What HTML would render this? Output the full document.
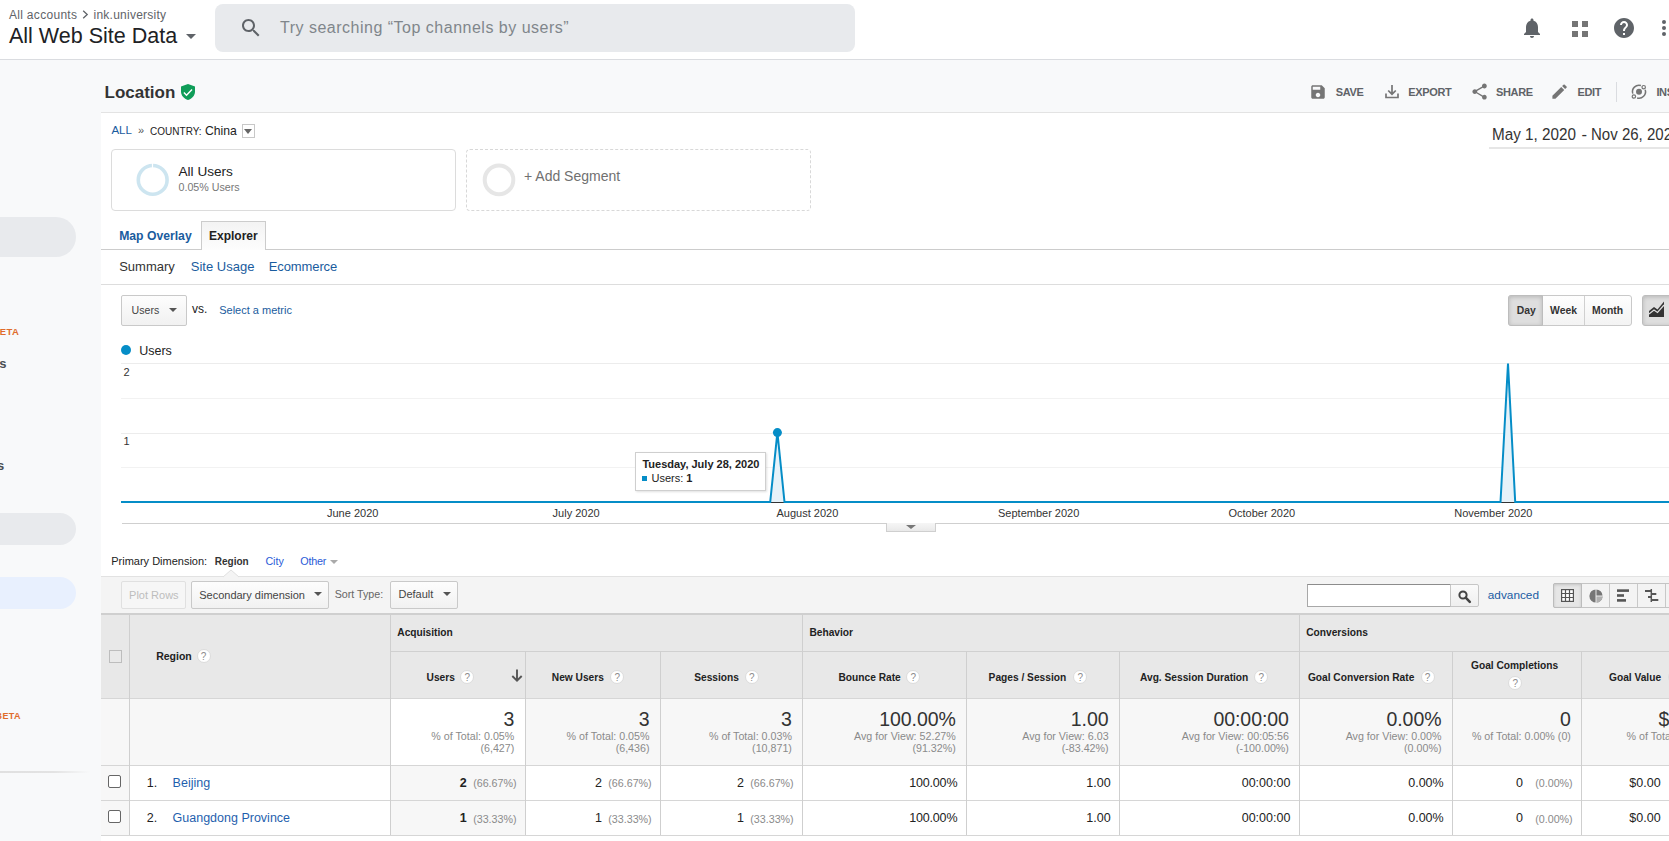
<!DOCTYPE html>
<html><head><meta charset="utf-8">
<style>
*{box-sizing:border-box;margin:0;padding:0}
html,body{width:1669px;height:841px;overflow:hidden;background:#f8f9fa;font-family:"Liberation Sans",sans-serif;color:#222;position:relative}
.a{position:absolute;white-space:nowrap;line-height:1}
.b{position:absolute}
svg{position:absolute;overflow:visible}
.blue{color:#1a5c9e}
.lnk{color:#3367d6}
.btn{position:absolute;border:1px solid #c9c9c9;border-radius:2px;background:linear-gradient(#fdfdfd,#f1f1f1)}
.arr{position:absolute;width:0;height:0;border-left:4px solid transparent;border-right:4px solid transparent;border-top:4px solid #666}
.q{position:absolute;width:14px;height:14px;border-radius:7px;background:#fff;border:1px solid #dcdcdc;color:#8c8c8c;font-size:10px;line-height:13px;text-align:center}
.vl{position:absolute;width:1px;background:#cfcfcf}
.hl{position:absolute;height:1px;background:#d4d4d4}
.cb{position:absolute;width:13px;height:13px;border:1.5px solid #666;border-radius:2px;background:#fff}
</style></head><body>

<!-- ===== HEADER ===== -->
<div class="b" style="left:0;top:0;width:1669px;height:60px;background:#fff;border-bottom:1px solid #dadce0"></div>
<div class="a" style="left:9px;top:8.5px;font-size:12px;color:#5f6368;letter-spacing:0.3px">All accounts</div>
<svg style="left:82px;top:10px" width="7" height="9" viewBox="0 0 7 9"><path d="M1.2 0.8 L5.2 4.5 L1.2 8.2" fill="none" stroke="#5f6368" stroke-width="1.3"/></svg>
<div class="a" style="left:93.5px;top:8.5px;font-size:12px;color:#5f6368;letter-spacing:0.25px">ink.university</div>
<div class="a" style="left:9px;top:26px;font-size:21.5px;color:#202124">All Web Site Data</div>
<div class="arr" style="left:186px;top:34px;border-left-width:5px;border-right-width:5px;border-top-width:5px;border-top-color:#5f6368"></div>
<div class="b" style="left:215px;top:4px;width:640px;height:48px;background:#e8eaed;border-radius:8px"></div>
<svg style="left:239px;top:16px" width="24" height="24" viewBox="0 0 24 24"><path fill="#5f6368" d="M15.5 14h-.79l-.28-.27C15.41 12.59 16 11.11 16 9.5 16 5.91 13.09 3 9.5 3S3 5.91 3 9.5 5.91 16 9.5 16c1.61 0 3.09-.59 4.23-1.57l.27.28v.79l5 4.99L20.49 19l-4.99-5zm-6 0C7.01 14 5 11.99 5 9.5S7.01 5 9.5 5 14 7.01 14 9.5 11.99 14 9.5 14z"/></svg>
<div class="a" style="left:280px;top:19.5px;font-size:16px;color:#80868b;letter-spacing:0.5px">Try searching “Top channels by users”</div>
<!-- bell -->
<svg style="left:1520px;top:16px" width="24" height="24" viewBox="0 0 24 24"><path fill="#5f6368" d="M12 22c1.1 0 2-.9 2-2h-4c0 1.1.89 2 2 2zm6-6v-5c0-3.07-1.64-5.64-4.5-6.32V4c0-.83-.67-1.5-1.5-1.5s-1.5.67-1.5 1.5v.68C7.63 5.36 6 7.92 6 11v5l-2 2v1h16v-1l-2-2z"/></svg>
<!-- apps 4 squares -->
<div class="b" style="left:1572px;top:21px;width:6px;height:6px;background:#757575"></div>
<div class="b" style="left:1582px;top:21px;width:6px;height:6px;background:#757575"></div>
<div class="b" style="left:1572px;top:31px;width:6px;height:6px;background:#757575"></div>
<div class="b" style="left:1582px;top:31px;width:6px;height:6px;background:#757575"></div>
<!-- help -->
<svg style="left:1612px;top:16px" width="24" height="24" viewBox="0 0 24 24"><path fill="#5f6368" d="M12 2C6.48 2 2 6.48 2 12s4.48 10 10 10 10-4.48 10-10S17.52 2 12 2zm1 17h-2v-2h2v2zm2.07-7.75l-.9.92C13.45 12.9 13 13.5 13 15h-2v-.5c0-1.1.45-2.1 1.17-2.83l1.24-1.26c.37-.36.59-.86.59-1.41 0-1.1-.9-2-2-2s-2 .9-2 2H8c0-2.21 1.79-4 4-4s4 1.79 4 4c0 .88-.36 1.68-.93 2.25z"/></svg>
<!-- more -->
<svg style="left:1652px;top:16px" width="24" height="24" viewBox="0 0 24 24"><circle cx="12" cy="6" r="2" fill="#5f6368"/><circle cx="12" cy="12" r="2" fill="#5f6368"/><circle cx="12" cy="18" r="2" fill="#5f6368"/></svg>

<!-- ===== LOCATION BAR ===== -->
<div class="a" style="left:104.5px;top:83.5px;font-size:17px;font-weight:bold;color:#333">Location</div>
<svg style="left:181px;top:84px" width="14" height="16" viewBox="0 0 14 16"><path d="M7 0 L14 2.6 V7.5 C14 11.5 11 14.8 7 16 C3 14.8 0 11.5 0 7.5 V2.6 Z" fill="#0f9d58"/><path d="M2.9 8.6 L5.5 11.2 L11 5.4" fill="none" stroke="#fff" stroke-width="1.4"/></svg>

<!-- toolbar icons -->
<svg style="left:1309px;top:82.7px" width="18" height="18" viewBox="0 0 24 24"><path fill="#757575" d="M17 3H5c-1.11 0-2 .9-2 2v14c0 1.1.89 2 2 2h14c1.1 0 2-.9 2-2V7l-4-4zm-5 16c-1.66 0-3-1.34-3-3s1.34-3 3-3 3 1.34 3 3-1.34 3-3 3zm3-10H5V5h10v4z"/></svg>
<div class="a" style="left:1335.8px;top:86.8px;font-size:11px;font-weight:bold;color:#5f6368;letter-spacing:-0.35px">SAVE</div>
<svg style="left:1385px;top:84px" width="14" height="15" viewBox="0 0 14 15"><path d="M7 1 V10 M3.2 6.5 L7 10.2 L10.8 6.5 M1 9.5 V13.5 H13 V9.5" fill="none" stroke="#757575" stroke-width="1.7"/></svg>
<div class="a" style="left:1408.3px;top:86.8px;font-size:11px;font-weight:bold;color:#5f6368;letter-spacing:-0.35px">EXPORT</div>
<svg style="left:1469.6px;top:82.4px" width="19.2" height="19.2" viewBox="0 0 24 24"><path fill="#757575" d="M18 16.08c-.76 0-1.44.3-1.96.77L8.91 12.7c.05-.23.09-.46.09-.7s-.04-.47-.09-.7l7.05-4.11c.54.5 1.25.81 2.04.81 1.66 0 3-1.34 3-3s-1.34-3-3-3-3 1.34-3 3c0 .24.04.47.09.7L8.04 9.81C7.5 9.31 6.79 9 6 9c-1.66 0-3 1.34-3 3s1.34 3 3 3c.79 0 1.5-.31 2.04-.81l7.12 4.16c-.05.21-.08.43-.08.65 0 1.61 1.31 2.92 2.92 2.92 1.61 0 2.92-1.31 2.92-2.92s-1.31-2.92-2.92-2.92z"/></svg>
<div class="a" style="left:1496px;top:86.8px;font-size:11px;font-weight:bold;color:#5f6368;letter-spacing:-0.35px">SHARE</div>
<svg style="left:1550.3px;top:82.4px" width="19.2" height="19.2" viewBox="0 0 24 24"><path fill="#757575" d="M3 17.25V21h3.75L17.81 9.94l-3.75-3.75L3 17.25zM20.71 7.04c.39-.39.39-1.02 0-1.41l-2.34-2.34c-.39-.39-1.02-.39-1.41 0l-1.83 1.83 3.75 3.75 1.83-1.83z"/></svg>
<div class="a" style="left:1577.5px;top:86.8px;font-size:11px;font-weight:bold;color:#5f6368;letter-spacing:-0.35px">EDIT</div>
<div class="b" style="left:1616px;top:82px;width:1px;height:20px;background:#dadce0"></div>
<svg style="left:1631px;top:84px" width="16" height="16" viewBox="0 0 16 16"><path d="M14.22 5.8 A6.5 6.5 0 0 1 6.1 13.92 M1.78 9.6 A6.5 6.5 0 0 1 9.9 1.48" fill="none" stroke="#757575" stroke-width="1.5"/><circle cx="8" cy="7.7" r="3" fill="#757575"/><circle cx="12.7" cy="3.2" r="1.7" fill="none" stroke="#757575" stroke-width="1.2"/><circle cx="2.9" cy="12.5" r="1.7" fill="none" stroke="#757575" stroke-width="1.2"/></svg>
<div class="a" style="left:1656.4px;top:86.8px;font-size:11px;font-weight:bold;color:#5f6368;letter-spacing:-0.35px">INSIGHTS</div>

<!-- ===== SIDEBAR ===== -->
<div class="b" style="left:-40px;top:217px;width:116px;height:40px;border-radius:20px;background:#e8eaed"></div>
<div class="a" style="left:-100px;width:119.3px;text-align:right;top:327.3px;font-size:9.5px;font-weight:bold;color:#e06c2c;letter-spacing:0.4px">BETA</div>
<div class="a" style="left:-100px;width:106.5px;text-align:right;top:356.6px;font-size:13px;font-weight:bold;color:#4a4e52">Users</div>
<div class="a" style="left:-100px;width:104.2px;text-align:right;top:458.8px;font-size:13px;font-weight:bold;color:#4a4e52">Others</div>
<div class="b" style="left:-40px;top:513px;width:116px;height:32px;border-radius:16px;background:#e8eaed"></div>
<div class="b" style="left:-40px;top:577px;width:116px;height:32px;border-radius:16px;background:#e8f0fe"></div>
<div class="a" style="left:-100px;width:121px;text-align:right;top:711.5px;font-size:9px;font-weight:bold;color:#e06c2c;letter-spacing:0.4px">BETA</div>
<div class="b" style="left:0;top:770.5px;width:90px;height:2px;background:linear-gradient(90deg,#e0e0e0,#e3e3e3 60%,rgba(248,249,250,0))"></div>

<!-- ===== MAIN WHITE ===== -->
<div class="b" style="left:101px;top:112px;width:1568px;height:729px;background:#fff;border-top:1px solid #e3e3e3"></div>

<!-- breadcrumb -->
<div class="a blue" style="left:111.4px;top:125.3px;font-size:11.5px">ALL</div>
<div class="a" style="left:138px;top:125px;font-size:11px;color:#555">»</div>
<div class="a" style="left:150.1px;top:126.5px;font-size:10px;color:#222">COUNTRY:</div>
<div class="a" style="left:205px;top:124.7px;font-size:12.2px;color:#222">China</div>
<div class="b" style="left:242px;top:124px;width:13px;height:14px;border:1px solid #c8c8c8;background:#fff"></div>
<div class="arr" style="left:244px;top:129px;border-left-width:4.5px;border-right-width:4.5px;border-top-width:5px;border-top-color:#666"></div>
<!-- date -->
<div class="a" style="left:1491.8px;top:127px;font-size:16.7px;color:#333;transform:scaleX(0.915);transform-origin:0 0">May 1, 2020</div>
<div class="a" style="left:1581.6px;top:127px;font-size:16.7px;color:#333">-</div>
<div class="a" style="left:1590.6px;top:127px;font-size:16.7px;color:#333;transform:scaleX(0.9);transform-origin:0 0">Nov 26, 2020</div>
<div class="b" style="left:1489px;top:147px;width:180px;height:2px;background:#e6e6e6"></div>

<!-- segments -->
<div class="b" style="left:111px;top:149px;width:345px;height:62px;border:1px solid #dcdcdc;border-radius:4px;background:#fff"></div>
<svg style="left:136px;top:163px" width="34" height="34" viewBox="0 0 34 34"><circle cx="16.7" cy="16.9" r="14.4" fill="none" stroke="#cde5f0" stroke-width="3.6"/><rect x="15.9" y="0" width="1.2" height="5" fill="#fff"/></svg>
<div class="a" style="left:178.5px;top:164.5px;font-size:13.6px;color:#222">All Users</div>
<div class="a" style="left:178.5px;top:181.9px;font-size:10.7px;color:#777">0.05% Users</div>
<div class="b" style="left:466px;top:149px;width:345px;height:62px;border:1px dashed #d8d8d8;border-radius:4px;background:#fff"></div>
<svg style="left:482px;top:163px" width="34" height="34" viewBox="0 0 34 34"><circle cx="17" cy="16.9" r="14.3" fill="none" stroke="#e6e6e6" stroke-width="4"/></svg>
<div class="a" style="left:524px;top:169.3px;font-size:14px;color:#707070">+ Add Segment</div>

<!-- tabs -->
<div class="hl" style="left:101px;top:249px;width:1568px;background:#cccccc"></div>
<div class="b" style="left:200.5px;top:221px;width:65.5px;height:29px;border:1px solid #cccccc;border-bottom:none;background:linear-gradient(#f3f3f3,#fdfdfd)"></div>
<div class="a blue" style="left:119.2px;top:229.8px;font-size:12.2px;font-weight:bold">Map Overlay</div>
<div class="a" style="left:209px;top:229.8px;font-size:12px;font-weight:bold;color:#222">Explorer</div>
<div class="a" style="left:119.2px;top:259.6px;font-size:13px;color:#333">Summary</div>
<div class="a blue" style="left:190.8px;top:259.6px;font-size:13px">Site Usage</div>
<div class="a blue" style="left:268.7px;top:259.6px;font-size:13px;letter-spacing:-0.1px">Ecommerce</div>
<div class="hl" style="left:101px;top:284px;width:1568px;background:#dddddd"></div>

<!-- metric selector -->
<div class="btn" style="left:121px;top:295px;width:66px;height:31px"></div>
<div class="a" style="left:131.6px;top:304.7px;font-size:10.6px;color:#444">Users</div>
<div class="arr" style="left:169px;top:307.6px;border-top-color:#555"></div>
<div class="a" style="left:192px;top:302.6px;font-size:12px;color:#1a1a1a">vs.</div>
<div class="a blue" style="left:219.2px;top:305.2px;font-size:11px">Select a metric</div>

<!-- day week month -->
<div class="b" style="left:1508px;top:295px;width:124px;height:31px;border:1px solid #c9c9c9;border-radius:3px;background:linear-gradient(#fefefe,#f3f3f3)"></div>
<div class="b" style="left:1508px;top:295px;width:35px;height:31px;border:1px solid #bdbdbd;border-radius:3px 0 0 3px;background:#dedede;box-shadow:inset 0 1px 4px rgba(0,0,0,.18)"></div>
<div class="vl" style="left:1584px;top:296px;height:29px;background:#d0d0d0"></div>
<div class="a" style="left:1516.7px;top:306px;font-size:10.4px;font-weight:bold;color:#333">Day</div>
<div class="a" style="left:1550.1px;top:306px;font-size:10.4px;font-weight:bold;color:#333">Week</div>
<div class="a" style="left:1592px;top:306px;font-size:10.4px;font-weight:bold;color:#333">Month</div>
<div class="b" style="left:1642px;top:295px;width:40px;height:31px;border:1px solid #bdbdbd;border-radius:3px;background:#dedede;box-shadow:inset 0 1px 4px rgba(0,0,0,.18)"></div>
<svg style="left:1648.8px;top:301px" width="16" height="16" viewBox="0 0 16 16"><path d="M0 10 L5 6 L8.5 8.5 L15 0.5 V16 H0 Z" fill="#333"/><path d="M0 13 L5 9 L8.5 11.5 L15 4" fill="none" stroke="#dedede" stroke-width="1.2"/></svg>

<!-- chart -->
<div class="b" style="left:120.7px;top:345.2px;width:10px;height:10px;border-radius:5px;background:#058dc7"></div>
<div class="a" style="left:139.2px;top:344.9px;font-size:12.5px;color:#222">Users</div>
<div class="hl" style="left:121px;top:363px;width:1548px;background:#ececec"></div>
<div class="hl" style="left:121px;top:398px;width:1548px;background:#f2f2f2"></div>
<div class="hl" style="left:121px;top:433px;width:1548px;background:#ececec"></div>
<div class="hl" style="left:121px;top:467px;width:1548px;background:#f2f2f2"></div>
<div class="a" style="left:123.5px;top:367.1px;font-size:11px;color:#333">2</div>
<div class="a" style="left:123.5px;top:435.7px;font-size:11px;color:#333">1</div>
<svg style="left:0;top:0" width="1669" height="841">
  <path d="M770.2 502 L777.4 432.4 L784.5 502 Z" fill="#e6f2f9"/>
  <path d="M1500.5 502 L1508 363.5 L1515.2 502 Z" fill="#e6f2f9"/>
  <line x1="771" y1="502.5" x2="784" y2="502.5" stroke="#333" stroke-width="1"/>
  <line x1="1501" y1="502.5" x2="1515" y2="502.5" stroke="#333" stroke-width="1"/>
  <path d="M121 502 L770.2 502 L777.4 432.4 L784.5 502 L1500.5 502 L1508 363.5 L1515.2 502 L1669 502" fill="none" stroke="#058dc7" stroke-width="2" stroke-linejoin="miter"/>
  <circle cx="777.4" cy="432.6" r="4.5" fill="#058dc7"/>
</svg>
<div class="hl" style="left:122px;top:523px;width:1547px;background:#cfcfcf"></div>
<div class="a" style="left:327px;top:507.7px;font-size:11px;color:#333">June 2020</div>
<div class="a" style="left:552.6px;top:507.7px;font-size:11px;color:#333">July 2020</div>
<div class="a" style="left:776.5px;top:507.7px;font-size:11px;color:#333">August 2020</div>
<div class="a" style="left:998px;top:507.7px;font-size:11px;color:#333">September 2020</div>
<div class="a" style="left:1228.5px;top:507.7px;font-size:11px;color:#333">October 2020</div>
<div class="a" style="left:1454.2px;top:507.7px;font-size:11px;color:#333">November 2020</div>
<div class="b" style="left:886px;top:523px;width:50px;height:9px;border:1px solid #cfcfcf;border-top:none;background:linear-gradient(#f6f6f6,#e9e9e9)"></div>
<div class="arr" style="left:906px;top:525px;border-left-width:5px;border-right-width:5px;border-top-width:4px;border-top-color:#777"></div>
<!-- tooltip -->
<div class="b" style="left:635px;top:452px;width:131px;height:39px;background:#fff;border:1px solid #cfcfcf;box-shadow:1px 1px 2px rgba(0,0,0,.12)"></div>
<div class="a" style="left:642.4px;top:458.9px;font-size:11px;font-weight:bold;color:#222">Tuesday, July 28, 2020</div>
<div class="b" style="left:642.4px;top:476px;width:4.4px;height:4.6px;background:#058dc7"></div>
<div class="a" style="left:651.5px;top:472.7px;font-size:11px;color:#222">Users: <b>1</b></div>

<!--TBL-->
<div class="a" style="left:111.2px;top:555.7px;font-size:11px;color:#222;">Primary Dimension:</div>
<div class="a" style="left:214.8px;top:556.5px;font-size:10px;color:#333;font-weight:bold;">Region</div>
<div class="a" style="left:265.4px;top:555.9px;font-size:10.7px;color:#2a5bd7;">City</div>
<div class="a" style="left:300.2px;top:555.9px;font-size:10.8px;color:#2a5bd7;letter-spacing:-0.2px">Other</div>
<div class="arr" style="left:329.5px;top:559.5px;border-left-width:4px;border-right-width:4px;border-top-width:4.5px;border-top-color:#aaa"></div>
<div class="b" style="left:101px;top:576px;width:1568px;height:38px;background:#f4f4f4;border-top:1px solid #e2e2e2"></div>
<svg style="left:223px;top:569px" width="16" height="9" viewBox="0 0 16 9"><path d="M0 8 L8 1 L16 8" fill="#f4f4f4" stroke="#e0e0e0" stroke-width="1"/></svg>
<div class="b" style="left:121px;top:581px;width:65px;height:28px;border:1px solid #e0e0e0;border-radius:2px;background:#f6f6f6"></div>
<div class="a" style="left:129.1px;top:590.4px;font-size:11px;color:#bdbdbd;">Plot Rows</div>
<div class="btn" style="left:191px;top:581px;width:138px;height:28px"></div>
<div class="a" style="left:199.2px;top:589.7px;font-size:11px;color:#444;">Secondary dimension</div>
<div class="arr" style="left:313.5px;top:591.8px;border-top-color:#555"></div>
<div class="a" style="left:334.7px;top:589.1px;font-size:10.7px;color:#666;">Sort Type:</div>
<div class="btn" style="left:390px;top:581px;width:68px;height:28px"></div>
<div class="a" style="left:398.5px;top:589.4px;font-size:11px;color:#444;">Default</div>
<div class="arr" style="left:442.5px;top:591.8px;border-top-color:#555"></div>
<div class="b" style="left:1307px;top:584px;width:144px;height:23px;border:1px solid #a8a8a8;border-top-color:#8c8c8c;background:#fff"></div>
<div class="b" style="left:1450px;top:584px;width:29px;height:23px;border:1px solid #c6c6c6;border-radius:0 2px 2px 0;background:linear-gradient(#fafafa,#efefef)"></div>
<svg style="left:1458px;top:590px" width="13" height="13" viewBox="0 0 13 13"><circle cx="5" cy="5" r="3.6" fill="none" stroke="#444" stroke-width="2"/><path d="M7.7 7.7 L11.8 11.8" stroke="#444" stroke-width="2.6" stroke-linecap="round"/></svg>
<div class="a" style="left:1487.8px;top:590.3px;font-size:11.8px;color:#1a5ba3;">advanced</div>
<div class="b" style="left:1553px;top:583px;width:130px;height:25px;border:1px solid #c4c4c4;border-radius:2px;background:#f3f3f3"></div>
<div class="b" style="left:1553px;top:583px;width:29px;height:25px;border:1px solid #bcbcbc;border-radius:2px 0 0 2px;background:#e6e6e6;box-shadow:inset 0 1px 3px rgba(0,0,0,.15)"></div>
<div class="vl" style="left:1609px;top:584px;height:23px;background:#c8c8c8"></div>
<div class="vl" style="left:1637px;top:584px;height:23px;background:#c8c8c8"></div>
<div class="vl" style="left:1665px;top:584px;height:23px;background:#c8c8c8"></div>
<svg style="left:1561px;top:589px" width="13" height="13" viewBox="0 0 13 13"><rect x="0.6" y="0.6" width="11.8" height="11.8" fill="#fff" stroke="#555" stroke-width="1.2"/><path d="M4.5 0 V13 M8.5 0 V13 M0 4.5 H13 M0 8.5 H13" stroke="#555" stroke-width="1.2"/></svg>
<svg style="left:1588.5px;top:588.5px" width="14" height="14" viewBox="0 0 14 14"><circle cx="7" cy="7" r="6.6" fill="#767676"/><path d="M7 7 H13.6 A6.6 6.6 0 0 1 7 13.6 Z" fill="#b0b0b0"/><path d="M7 0 V14 M7 7 H14" stroke="#f3f3f3" stroke-width="0.9"/></svg>
<svg style="left:1617px;top:589px" width="13" height="13" viewBox="0 0 13 13"><rect x="0" y="0.3" width="12" height="2.6" fill="#555"/><rect x="0" y="5.2" width="7" height="2.6" fill="#555"/><rect x="0" y="10.1" width="9" height="2.6" fill="#555"/></svg>
<svg style="left:1645px;top:589px" width="14" height="14" viewBox="0 0 14 14"><path d="M6.3 0 V13" stroke="#555" stroke-width="1.5"/><rect x="0" y="1" width="6.3" height="2" fill="#555"/><rect x="6.3" y="4" width="5" height="2" fill="#555"/><rect x="3" y="7" width="3.3" height="2" fill="#555"/><rect x="6.3" y="10" width="7" height="2" fill="#555"/></svg>
<div class="b" style="left:101px;top:614px;width:1568px;height:84px;background:#e8e8e8;"></div>
<div class="b" style="left:101px;top:698px;width:1568px;height:67px;background:#f7f7f7;"></div>
<div class="b" style="left:390.5px;top:698px;width:135px;height:67px;background:#fff;"></div>
<div class="b" style="left:101px;top:765px;width:1568px;height:70px;background:#fff;"></div>
<div class="b" style="left:101px;top:765px;width:28.5px;height:70px;background:#f7f7f7;"></div>
<div class="b" style="left:390.5px;top:765px;width:135px;height:70px;background:#f7f7f7;"></div>
<div class="hl" style="left:101px;top:613px;width:1568px;height:2px;background:#cfcfcf"></div>
<div class="hl" style="left:390.5px;top:651px;width:1279px;background:#d0d0d0"></div>
<div class="hl" style="left:101px;top:698px;width:1568px;background:#d6d6d6"></div>
<div class="hl" style="left:101px;top:765px;width:1568px;background:#d6d6d6"></div>
<div class="hl" style="left:101px;top:800px;width:1568px;background:#d6d6d6"></div>
<div class="hl" style="left:101px;top:835px;width:1568px;background:#d6d6d6"></div>
<div class="vl" style="left:129.0px;top:614px;height:221px"></div>
<div class="vl" style="left:390.0px;top:614px;height:221px"></div>
<div class="vl" style="left:525.0px;top:651px;height:184px"></div>
<div class="vl" style="left:660.0px;top:651px;height:184px"></div>
<div class="vl" style="left:802.0px;top:614px;height:221px"></div>
<div class="vl" style="left:966.0px;top:651px;height:184px"></div>
<div class="vl" style="left:1119.0px;top:651px;height:184px"></div>
<div class="vl" style="left:1299.0px;top:614px;height:221px"></div>
<div class="vl" style="left:1452.0px;top:651px;height:184px"></div>
<div class="vl" style="left:1581.0px;top:651px;height:184px"></div>
<div class="a" style="left:397.3px;top:627.8px;font-size:10.2px;color:#222;font-weight:bold;">Acquisition</div>
<div class="a" style="left:809.4px;top:627.8px;font-size:10.2px;color:#222;font-weight:bold;">Behavior</div>
<div class="a" style="left:1306.2px;top:627.8px;font-size:10.2px;color:#222;font-weight:bold;">Conversions</div>
<div class="a" style="left:156.2px;top:651.4px;font-size:10.5px;color:#222;font-weight:bold;">Region</div>
<div class="q" style="left:196.5px;top:649.2px">?</div>
<div class="b" style="left:109px;top:650px;width:13px;height:13px;border:1px solid #bdbdbd;background:#e9e9e9"></div>
<div class="a" style="left:426.6px;top:672.6px;font-size:10.2px;color:#222;font-weight:bold;">Users</div>
<div class="q" style="left:460.3px;top:669.5px">?</div>
<div class="a" style="left:551.8px;top:672.6px;font-size:10.2px;color:#222;font-weight:bold;">New Users</div>
<div class="q" style="left:610.2px;top:669.5px">?</div>
<div class="a" style="left:694.2px;top:672.6px;font-size:10.2px;color:#222;font-weight:bold;">Sessions</div>
<div class="q" style="left:744.7px;top:669.5px">?</div>
<div class="a" style="left:838.5px;top:672.6px;font-size:10.2px;color:#222;font-weight:bold;">Bounce Rate</div>
<div class="q" style="left:906.2px;top:669.5px">?</div>
<div class="a" style="left:988.6px;top:672.6px;font-size:10.2px;color:#222;font-weight:bold;">Pages / Session</div>
<div class="q" style="left:1073.3px;top:669.5px">?</div>
<div class="a" style="left:1140px;top:672.6px;font-size:10.2px;color:#222;font-weight:bold;">Avg. Session Duration</div>
<div class="q" style="left:1254.4px;top:669.5px">?</div>
<div class="a" style="left:1307.9px;top:672.6px;font-size:10.2px;color:#222;font-weight:bold;">Goal Conversion Rate</div>
<div class="q" style="left:1420.5px;top:669.5px">?</div>
<div class="a" style="left:1609px;top:672.6px;font-size:10.2px;color:#222;font-weight:bold;">Goal Value</div>
<div class="q" style="left:1668px;top:669.5px">?</div>
<div class="a" style="left:1471px;top:660.8px;font-size:10.2px;color:#222;font-weight:bold;">Goal Completions</div>
<div class="q" style="left:1508.2px;top:675.7px">?</div>
<svg style="left:511px;top:669px" width="12" height="13" viewBox="0 0 12 13"><path d="M6 0.5 V11.5 M1.3 7 L6 11.7 L10.7 7" fill="none" stroke="#555" stroke-width="1.9"/></svg>
<div class="a" style="left:214.29999999999995px;width:300px;text-align:right;top:709.5px;font-size:19.5px;color:#333;letter-spacing:-0.05px">3</div>
<div class="a" style="left:214.29999999999995px;width:300px;text-align:right;top:730.9px;font-size:10.7px;color:#8a8a8a;">% of Total: 0.05%</div>
<div class="a" style="left:214.29999999999995px;width:300px;text-align:right;top:742.9px;font-size:10.7px;color:#8a8a8a;">(6,427)</div>
<div class="a" style="left:349.5px;width:300px;text-align:right;top:709.5px;font-size:19.5px;color:#333;letter-spacing:-0.05px">3</div>
<div class="a" style="left:349.5px;width:300px;text-align:right;top:730.9px;font-size:10.7px;color:#8a8a8a;">% of Total: 0.05%</div>
<div class="a" style="left:349.5px;width:300px;text-align:right;top:742.9px;font-size:10.7px;color:#8a8a8a;">(6,436)</div>
<div class="a" style="left:491.9px;width:300px;text-align:right;top:709.5px;font-size:19.5px;color:#333;letter-spacing:-0.05px">3</div>
<div class="a" style="left:491.9px;width:300px;text-align:right;top:730.9px;font-size:10.7px;color:#8a8a8a;">% of Total: 0.03%</div>
<div class="a" style="left:491.9px;width:300px;text-align:right;top:742.9px;font-size:10.7px;color:#8a8a8a;">(10,871)</div>
<div class="a" style="left:655.8px;width:300px;text-align:right;top:709.5px;font-size:19.5px;color:#333;letter-spacing:-0.05px">100.00%</div>
<div class="a" style="left:655.8px;width:300px;text-align:right;top:730.9px;font-size:10.7px;color:#8a8a8a;">Avg for View: 52.27%</div>
<div class="a" style="left:655.8px;width:300px;text-align:right;top:742.9px;font-size:10.7px;color:#8a8a8a;">(91.32%)</div>
<div class="a" style="left:808.5999999999999px;width:300px;text-align:right;top:709.5px;font-size:19.5px;color:#333;letter-spacing:-0.05px">1.00</div>
<div class="a" style="left:808.5999999999999px;width:300px;text-align:right;top:730.9px;font-size:10.7px;color:#8a8a8a;">Avg for View: 6.03</div>
<div class="a" style="left:808.5999999999999px;width:300px;text-align:right;top:742.9px;font-size:10.7px;color:#8a8a8a;">(-83.42%)</div>
<div class="a" style="left:988.9000000000001px;width:300px;text-align:right;top:709.5px;font-size:19.5px;color:#333;letter-spacing:-0.05px">00:00:00</div>
<div class="a" style="left:988.9000000000001px;width:300px;text-align:right;top:730.9px;font-size:10.7px;color:#8a8a8a;">Avg for View: 00:05:56</div>
<div class="a" style="left:988.9000000000001px;width:300px;text-align:right;top:742.9px;font-size:10.7px;color:#8a8a8a;">(-100.00%)</div>
<div class="a" style="left:1141.5px;width:300px;text-align:right;top:709.5px;font-size:19.5px;color:#333;letter-spacing:-0.05px">0.00%</div>
<div class="a" style="left:1141.5px;width:300px;text-align:right;top:730.9px;font-size:10.7px;color:#8a8a8a;">Avg for View: 0.00%</div>
<div class="a" style="left:1141.5px;width:300px;text-align:right;top:742.9px;font-size:10.7px;color:#8a8a8a;">(0.00%)</div>
<div class="a" style="left:1270.9px;width:300px;text-align:right;top:709.5px;font-size:19.5px;color:#333;letter-spacing:-0.05px">0</div>
<div class="a" style="left:1270.9px;width:300px;text-align:right;top:730.9px;font-size:10.7px;color:#8a8a8a;">% of Total: 0.00% (0)</div>
<div class="a" style="left:1658.5px;top:709.5px;font-size:19.5px;color:#333;">$0.00</div>
<div class="a" style="left:1626.5px;top:730.9px;font-size:10.7px;color:#8a8a8a;">% of Total: 0.00% ($0.00)</div>
<div class="cb" style="left:108px;top:775.0px"></div>
<div class="a" style="left:146.8px;top:776.7px;font-size:12.5px;color:#222;">1.</div>
<div class="a" style="left:172.6px;top:776.7px;font-size:12.5px;color:#1f5fae;">Beijing</div>
<div class="a" style="left:166.7px;width:300px;text-align:right;top:776.7px;font-size:12.5px;color:#222;font-weight:bold;">2</div>
<div class="a" style="left:216.5px;width:300px;text-align:right;top:778.2px;font-size:10.7px;color:#8a8a8a;">(66.67%)</div>
<div class="a" style="left:302px;width:300px;text-align:right;top:776.7px;font-size:12.5px;color:#222;">2</div>
<div class="a" style="left:351.70000000000005px;width:300px;text-align:right;top:778.2px;font-size:10.7px;color:#8a8a8a;">(66.67%)</div>
<div class="a" style="left:444px;width:300px;text-align:right;top:776.7px;font-size:12.5px;color:#222;">2</div>
<div class="a" style="left:493.70000000000005px;width:300px;text-align:right;top:778.2px;font-size:10.7px;color:#8a8a8a;">(66.67%)</div>
<div class="a" style="left:657.3px;width:300px;text-align:right;top:776.7px;font-size:12.5px;color:#222;letter-spacing:-0.2px">100.00%</div>
<div class="a" style="left:810.7px;width:300px;text-align:right;top:776.7px;font-size:12.5px;color:#222;">1.00</div>
<div class="a" style="left:990.4000000000001px;width:300px;text-align:right;top:776.7px;font-size:12.5px;color:#222;">00:00:00</div>
<div class="a" style="left:1143.7px;width:300px;text-align:right;top:776.7px;font-size:12.5px;color:#222;">0.00%</div>
<div class="a" style="left:1223px;width:300px;text-align:right;top:776.7px;font-size:12.5px;color:#222;">0</div>
<div class="a" style="left:1272.7px;width:300px;text-align:right;top:778.2px;font-size:10.7px;color:#8a8a8a;">(0.00%)</div>
<div class="a" style="left:1360.6px;width:300px;text-align:right;top:776.7px;font-size:12.5px;color:#222;">$0.00</div>
<div class="cb" style="left:108px;top:810.0px"></div>
<div class="a" style="left:146.8px;top:812.2px;font-size:12.5px;color:#222;">2.</div>
<div class="a" style="left:172.6px;top:812.2px;font-size:12.5px;color:#1f5fae;">Guangdong Province</div>
<div class="a" style="left:166.7px;width:300px;text-align:right;top:812.2px;font-size:12.5px;color:#222;font-weight:bold;">1</div>
<div class="a" style="left:216.5px;width:300px;text-align:right;top:813.7px;font-size:10.7px;color:#8a8a8a;">(33.33%)</div>
<div class="a" style="left:302px;width:300px;text-align:right;top:812.2px;font-size:12.5px;color:#222;">1</div>
<div class="a" style="left:351.70000000000005px;width:300px;text-align:right;top:813.7px;font-size:10.7px;color:#8a8a8a;">(33.33%)</div>
<div class="a" style="left:444px;width:300px;text-align:right;top:812.2px;font-size:12.5px;color:#222;">1</div>
<div class="a" style="left:493.70000000000005px;width:300px;text-align:right;top:813.7px;font-size:10.7px;color:#8a8a8a;">(33.33%)</div>
<div class="a" style="left:657.3px;width:300px;text-align:right;top:812.2px;font-size:12.5px;color:#222;letter-spacing:-0.2px">100.00%</div>
<div class="a" style="left:810.7px;width:300px;text-align:right;top:812.2px;font-size:12.5px;color:#222;">1.00</div>
<div class="a" style="left:990.4000000000001px;width:300px;text-align:right;top:812.2px;font-size:12.5px;color:#222;">00:00:00</div>
<div class="a" style="left:1143.7px;width:300px;text-align:right;top:812.2px;font-size:12.5px;color:#222;">0.00%</div>
<div class="a" style="left:1223px;width:300px;text-align:right;top:812.2px;font-size:12.5px;color:#222;">0</div>
<div class="a" style="left:1272.7px;width:300px;text-align:right;top:813.7px;font-size:10.7px;color:#8a8a8a;">(0.00%)</div>
<div class="a" style="left:1360.6px;width:300px;text-align:right;top:812.2px;font-size:12.5px;color:#222;">$0.00</div>
<!--/TBL-->
</body></html>
